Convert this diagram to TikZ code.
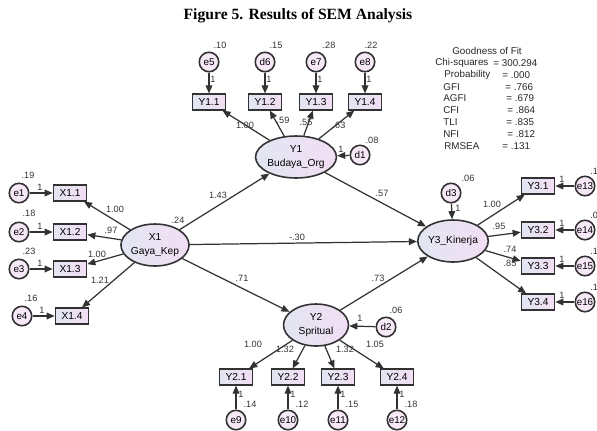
\documentclass[tikz,border=0pt]{standalone}
\usepackage{fontspec}
\setmainfont{Liberation Sans}
\newfontfamily\titlefont{Liberation Serif}
\usetikzlibrary{shapes.geometric,arrows.meta}

\definecolor{fillL}{RGB}{226,230,242}
\definecolor{fillR}{RGB}{242,222,244}
\definecolor{edge}{RGB}{50,50,50}

\tikzset{
  obs/.style={draw=edge, line width=0.9pt, left color=fillL, right color=fillR, minimum width=0.66cm, minimum height=0.31cm, inner sep=0pt, font=\fontsize{5.8}{6}\selectfont},
  lat/.style={ellipse, draw=edge, line width=0.9pt, left color=fillL, right color=fillR, minimum width=1.3cm, minimum height=0.84cm, inner sep=0pt, align=center, font=\fontsize{5.8}{7.8}\selectfont},
  err/.style={circle, draw=edge, line width=0.9pt, fill=fillR!70!white, minimum size=0.39cm, inner sep=0pt, font=\fontsize{5.6}{6}\selectfont},
  num/.style={inner sep=0pt, text=black!80, font=\fontsize{5.2}{6}\selectfont},
  gof/.style={inner sep=0pt, anchor=west, text=black!85, font=\fontsize{5.6}{6}\selectfont},
  path/.style={-{Triangle[length=4.6pt,width=3.8pt]}, draw=edge, line width=0.7pt},
}

\begin{document}
\begin{tikzpicture}[x=0.02cm, y=-0.02cm]
  \useasboundingbox (0,0) rectangle (597,430);

  \node[font=\titlefont\bfseries\fontsize{8.9}{10}\selectfont] (title) at (298,16) {Figure 5. Results of SEM Analysis};

  % latent variables
  \node[lat] (X1) at (155,245) {X1\\Gaya\_Kep};
  \node[lat] (Y1) at (296,157) {Y1\\Budaya\_Org};
  \node[lat] (Y2) at (316,325) {Y2\\Spritual};
  \node[lat] (Y3) at (453,241) {Y3\_Kinerja};

  % X1 block
  \node[obs] (x11) at (70,193) {X1.1};
  \node[obs] (x12) at (70,232) {X1.2};
  \node[obs] (x13) at (70,269) {X1.3};
  \node[obs] (x14) at (72,316) {X1.4};
  \node[err] (e1) at (19,193) {e1};
  \node[err] (e2) at (19,232) {e2};
  \node[err] (e3) at (19,269) {e3};
  \node[err] (e4) at (22,316) {e4};
  \draw[path] (e1) -- (x11);
  \draw[path] (e2) -- (x12);
  \draw[path] (e3) -- (x13);
  \draw[path] (e4) -- (x14);
  \draw[path] (X1) -- (x11);
  \draw[path] (X1) -- (x12);
  \draw[path] (X1) -- (x13);
  \draw[path] (X1) -- (x14);
  \node[num] (ve1) at (28,175) {.19};
  \node[num] (ve2) at (29,213) {.18};
  \node[num] (ve3) at (29,251) {.23};
  \node[num] (ve4) at (31,298) {.16};
  \node[num] (w1) at (40,187) {1};
  \node[num] (w2) at (40,226) {1};
  \node[num] (w3) at (40,263) {1};
  \node[num] (w4) at (42,310) {1};
  \node[num] (lx1) at (115,209) {1.00};
  \node[num] (lx2) at (111,230) {.97};
  \node[num] (lx3) at (97,254) {1.00};
  \node[num] (lx4) at (100,280) {1.21};
  \node[num] (vX1) at (178,220) {.24};

  % Y1 block
  \node[obs] (y11) at (209,102) {Y1.1};
  \node[obs] (y12) at (265,102) {Y1.2};
  \node[obs] (y13) at (316,102) {Y1.3};
  \node[obs] (y14) at (365,102) {Y1.4};
  \node[err] (e5) at (209,62) {e5};
  \node[err] (d6) at (265,62) {d6};
  \node[err] (e7) at (316,62) {e7};
  \node[err] (e8) at (365,62) {e8};
  \node[err] (d1) at (360,155) {d1};
  \draw[path] (e5) -- (y11);
  \draw[path] (d6) -- (y12);
  \draw[path] (e7) -- (y13);
  \draw[path] (e8) -- (y14);
  \draw[path] (Y1) -- (y11);
  \draw[path] (Y1) -- (y12);
  \draw[path] (Y1) -- (y13);
  \draw[path] (Y1) -- (y14);
  \draw[path] (d1) -- (Y1);
  \node[num] (ve5) at (220,45) {.10};
  \node[num] (vd6) at (276,45) {.15};
  \node[num] (ve7) at (329,45) {.28};
  \node[num] (ve8) at (371,45) {.22};
  \node[num] (vd1) at (372,140) {.08};
  \node[num] (w5) at (213,79) {1};
  \node[num] (w6) at (269,79) {1};
  \node[num] (w7) at (320,79) {1};
  \node[num] (w8) at (369,79) {1};
  \node[num] (wd1) at (341,149) {1};
  \node[num] (ly1) at (245,125) {1.00};
  \node[num] (ly2) at (283,120) {.59};
  \node[num] (ly3) at (306,122) {.55};
  \node[num] (ly4) at (339,125) {.63};

  % Y2 block
  \node[obs] (y21) at (236,377) {Y2.1};
  \node[obs] (y22) at (288,377) {Y2.2};
  \node[obs] (y23) at (338,377) {Y2.3};
  \node[obs] (y24) at (397,377) {Y2.4};
  \node[err] (e9) at (236,420) {e9};
  \node[err] (e10) at (288,420) {e10};
  \node[err] (e11) at (338,420) {e11};
  \node[err] (e12) at (397,420) {e12};
  \node[err] (d2) at (386,327) {d2};
  \draw[path] (e9) -- (y21);
  \draw[path] (e10) -- (y22);
  \draw[path] (e11) -- (y23);
  \draw[path] (e12) -- (y24);
  \draw[path] (Y2) -- (y21);
  \draw[path] (Y2) -- (y22);
  \draw[path] (Y2) -- (y23);
  \draw[path] (Y2) -- (y24);
  \draw[path] (d2) -- (Y2);
  \node[num] (w9) at (241,394) {1};
  \node[num] (w10) at (293,394) {1};
  \node[num] (w11) at (343,394) {1};
  \node[num] (w12) at (402,394) {1};
  \node[num] (ve9) at (250,404) {.14};
  \node[num] (ve10) at (302,404) {.12};
  \node[num] (ve11) at (352,404) {.15};
  \node[num] (ve12) at (411,404) {.18};
  \node[num] (vd2) at (396,310) {.06};
  \node[num] (wd2) at (360,318) {1};
  \node[num] (lz1) at (253,344) {1.00};
  \node[num] (lz2) at (285,349) {1.32};
  \node[num] (lz3) at (345,349) {1.32};
  \node[num] (lz4) at (375,344) {1.05};

  % Y3 block
  \node[obs] (y31) at (538,186) {Y3.1};
  \node[obs] (y32) at (538,230) {Y3.2};
  \node[obs] (y33) at (538,266) {Y3.3};
  \node[obs] (y34) at (538,302) {Y3.4};
  \node[err] (e13) at (585,186) {e13};
  \node[err] (e14) at (585,230) {e14};
  \node[err] (e15) at (585,266) {e15};
  \node[err] (e16) at (585,302) {e16};
  \node[err] (d3) at (451,193) {d3};
  \draw[path] (e13) -- (y31);
  \draw[path] (e14) -- (y32);
  \draw[path] (e15) -- (y33);
  \draw[path] (e16) -- (y34);
  \draw[path] (Y3) -- (y31);
  \draw[path] (Y3) -- (y32);
  \draw[path] (Y3) -- (y33);
  \draw[path] (Y3) -- (y34);
  \draw[path] (d3) -- (Y3);
  \node[num, anchor=west] (ve13) at (590,171) {.1};
  \node[num, anchor=west] (ve14) at (590,215) {.0};
  \node[num, anchor=west] (ve15) at (590,251) {.1};
  \node[num, anchor=west] (ve16) at (590,287) {.1};
  \node[num] (w13) at (562,179) {1};
  \node[num] (w14) at (562,223) {1};
  \node[num] (w15) at (562,259) {1};
  \node[num] (w16) at (562,295) {1};
  \node[num] (vd3) at (468,178) {.06};
  \node[num] (wd3) at (458,208) {1};
  \node[num] (lw1) at (492,204) {1.00};
  \node[num] (lw2) at (499,226) {.95};
  \node[num] (lw3) at (510,249) {.74};
  \node[num] (lw4) at (510,263) {.85};

  % structural paths
  \draw[path] (X1) -- (Y1);
  \draw[path] (X1) -- (Y3);
  \draw[path] (X1) -- (Y2);
  \draw[path] (Y1) -- (Y3);
  \draw[path] (Y2) -- (Y3);
  \node[num] (b1) at (218,195) {1.43};
  \node[num] (b2) at (382,193) {.57};
  \node[num] (b3) at (297,237) {-.30};
  \node[num] (b4) at (242,278) {.71};
  \node[num] (b5) at (378,278) {.73};

  % goodness of fit
  \node[gof, anchor=center] (g0) at (487,51) {Goodness of Fit};
  \node[gof] (g1) at (435,63) {Chi-squares};  \node[gof] (h1) at (493,63) {= 300.294};
  \node[gof] (g2) at (444,75) {Probability};  \node[gof] (h2) at (502,75) {= .000};
  \node[gof] (g3) at (443,87) {GFI};          \node[gof] (h3) at (505,87) {= .766};
  \node[gof] (g4) at (443,98) {AGFI};         \node[gof] (h4) at (506,98) {= .679};
  \node[gof] (g5) at (443,110) {CFI};         \node[gof] (h5) at (507,110) {= .864};
  \node[gof] (g6) at (443,122) {TLI};         \node[gof] (h6) at (506,122) {= .835};
  \node[gof] (g7) at (443,134) {NFI};         \node[gof] (h7) at (507,134) {= .812};
  \node[gof] (g8) at (444,146) {RMSEA};       \node[gof] (h8) at (502,146) {= .131};
\end{tikzpicture}
\end{document}
